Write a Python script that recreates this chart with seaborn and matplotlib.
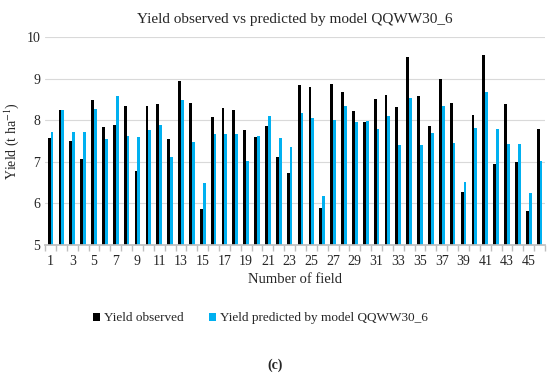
import matplotlib
matplotlib.use("Agg")
import matplotlib.pyplot as plt
import numpy as np
import pandas as pd
import seaborn as sns

sns.set_theme(style="white")
plt.rcParams['font.family'] = ['Liberation Serif', 'DejaVu Serif']
plt.rcParams['mathtext.fontset'] = 'stix'

# values
fields = list(range(1, 47))
observed = [7.57, 8.25, 7.51, 7.06, 8.48, 7.83, 7.88, 8.35, 6.79, 8.35,
            8.39, 7.55, 8.95, 8.41, 5.87, 8.07, 8.29, 8.25, 7.77, 7.59,
            7.85, 7.12, 6.73, 8.84, 8.81, 5.89, 8.87, 8.67, 8.23, 7.95,
            8.51, 8.60, 8.31, 9.53, 8.58, 7.87, 9.00, 8.41, 6.28, 8.13,
            9.57, 6.94, 8.40, 6.99, 5.81, 7.79]
predicted = [7.72, 8.25, 7.71, 7.71, 8.28, 7.55, 8.58, 7.62, 7.59, 7.77,
             7.89, 7.12, 8.49, 7.48, 6.49, 7.67, 7.67, 7.67, 7.03, 7.62,
             8.11, 7.57, 7.36, 8.17, 8.05, 6.18, 8.00, 8.33, 7.95, 7.99,
             7.78, 8.09, 7.41, 8.53, 7.41, 7.70, 8.35, 7.46, 6.51, 7.82,
             8.68, 7.80, 7.43, 7.43, 6.25, 7.01]
series = ["Yield observed", "Yield predicted by model QQWW30_6"]
colors = ["#000000", "#00B0F0"]

df = pd.DataFrame({
    "field": fields * 2,
    "yield": observed + predicted,
    "series": [series[0]] * len(fields) + [series[1]] * len(fields),
})

fig = plt.figure(figsize=(5.5, 3.78), dpi=100)
ax = fig.add_axes([0.082, 0.352, 0.909, 0.550])

sns.barplot(data=df, x="field", y="yield", hue="series", hue_order=series,
            palette=colors, width=0.52, saturation=1, linewidth=0,
            ax=ax, legend=True)

ax.set_ylim(5, 10)
ax.set_xlim(-0.5, len(fields) - 0.5)
ax.set_yticks(range(5, 11))
ax.yaxis.grid(True, color="#d9d9d9", linewidth=0.8)
ax.set_axisbelow(True)
for s in ["top", "right", "left"]:
    ax.spines[s].set_visible(False)
ax.spines["bottom"].set_color("#bfbfbf")

ax.set_xticks(range(0, len(fields), 2))
ax.set_xticklabels([str(f) for f in fields[::2]])
ax.set_xticks(np.arange(-0.5, len(fields), 1), minor=True)
ax.tick_params(axis="x", which="major", length=0, labelsize=10, pad=7)
ax.tick_params(axis="x", which="minor", length=4, color="#bfbfbf", bottom=True)
ax.tick_params(axis="y", length=0, labelsize=10)

ax.set_xlabel("Number of field", fontsize=10.5)
ax.set_ylabel(r"Yield (t ha$^{-1}$)", fontsize=10)
ax.set_title("Yield observed vs predicted by model QQWW30_6", fontsize=11, pad=10)

handles, labels = ax.get_legend_handles_labels()
ax.legend(handles, labels, loc="center", bbox_to_anchor=(0.473, 0.158),
          bbox_transform=fig.transFigure, ncol=2, frameon=False,
          fontsize=9.5, handlelength=0.55, handleheight=0.55, handletextpad=0.3,
          columnspacing=1.9)

fig.text(0.5, 0.035, "(c)", ha="center", va="center", fontsize=10,
         fontweight="bold")

fig.savefig("out.png", dpi=100)
